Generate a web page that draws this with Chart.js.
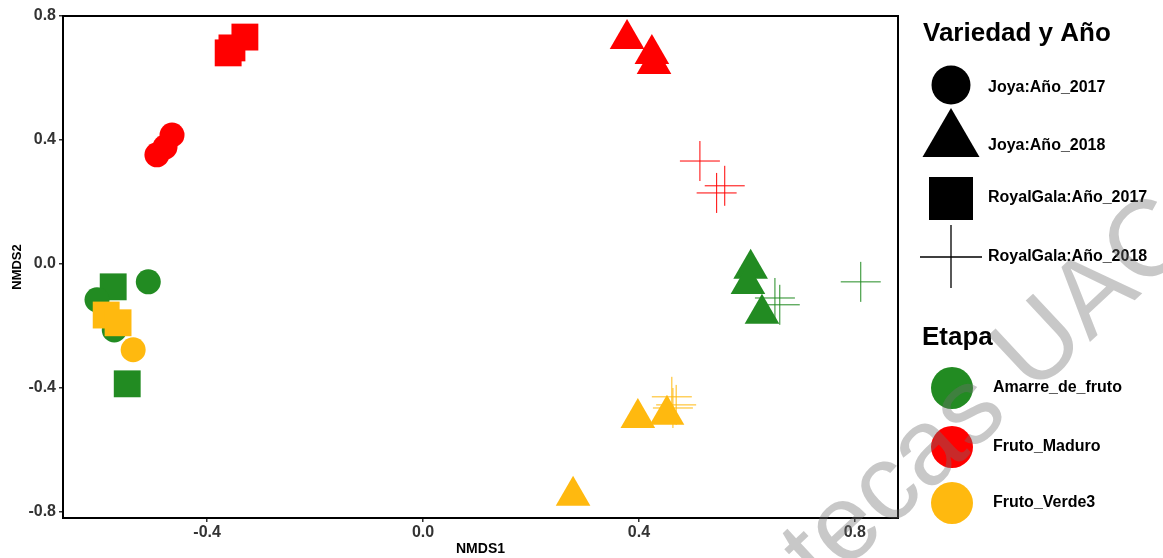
<!DOCTYPE html>
<html>
<head>
<meta charset="utf-8">
<script src="https://cdn.jsdelivr.net/npm/chart.js@4.4.1/dist/chart.umd.min.js"></script>
<style>
  html, body { margin: 0; padding: 0; background: #ffffff; }
  #wrap { width: 1163px; height: 558px; }
</style>
</head>
<body>
<div id="wrap"><canvas id="c" width="1163" height="558"></canvas></div>
<script>
// Axis ticks
const xTicks = [-0.4, 0.0, 0.4, 0.8];
const yTicks = [-0.8, -0.4, 0.0, 0.4, 0.8];

// Legend groups
const stages = ['Amarre_de_fruto', 'Fruto_Maduro', 'Fruto_Verde3'];
const stageColors = ['#228B22', '#FF0000', '#FFB90F'];
const groups = ['Joya:Año_2017', 'Joya:Año_2018', 'RoyalGala:Año_2017', 'RoyalGala:Año_2018'];
const groupShapes = ['circle', 'triangle', 'rect', 'cross'];

// NMDS scores [NMDS1, NMDS2] — Amarre_de_fruto
const amarreJoya2017 = [[-0.509, -0.058], [-0.604, -0.116], [-0.572, -0.213]];
const amarreJoya2018 = [[0.607, -0.016], [0.602, -0.065], [0.628, -0.161]];
const amarreGala2017 = [[-0.574, -0.074], [-0.548, -0.387]];
const amarreGala2018 = [[0.652, -0.110], [0.661, -0.132], [0.811, -0.058]];

// Fruto_Maduro
const maduroJoya2017 = [[-0.465, 0.416], [-0.478, 0.377], [-0.493, 0.352]];
const maduroJoya2018 = [[0.378, 0.726], [0.424, 0.677], [0.428, 0.645]];
const maduroGala2017 = [[-0.330, 0.732], [-0.354, 0.697], [-0.361, 0.681]];
const maduroGala2018 = [[0.513, 0.332], [0.559, 0.252], [0.544, 0.229]];

// Fruto_Verde3
const verdeJoya2017 = [[-0.537, -0.277]];
const verdeJoya2018 = [[0.398, -0.497], [0.452, -0.487], [0.278, -0.748]];
const verdeGala2017 = [[-0.587, -0.165], [-0.565, -0.190]];
const verdeGala2018 = [[0.461, -0.429], [0.469, -0.455], [0.463, -0.465]];

const seriesByStage = [
  [amarreJoya2017, amarreJoya2018, amarreGala2017, amarreGala2018],
  [maduroJoya2017, maduroJoya2018, maduroGala2017, maduroGala2018],
  [verdeJoya2017, verdeJoya2018, verdeGala2017, verdeGala2018]
];

const shapeRadius = { circle: 12.5, triangle: 20, rect: 19, cross: 20 };
const FONT = "'Liberation Sans', Arial, sans-serif";

// Build datasets; first dataset is drawn on top, so later stages go first
const datasets = [];
for (let s = stages.length - 1; s >= 0; s--) {
  for (let g = 0; g < groups.length; g++) {
    const shape = groupShapes[g];
    const isCross = shape === 'cross';
    datasets.push({
      label: stages[s] + ' ' + groups[g],
      data: seriesByStage[s][g].map(p => ({ x: p[0], y: p[1] })),
      pointStyle: shape,
      pointRadius: shapeRadius[shape],
      backgroundColor: stageColors[s],
      borderColor: stageColors[s],
      borderWidth: isCross ? 1 : 0,
      showLine: false
    });
  }
}

// Panel border, legend panel and watermark
const panelPlugin = {
  id: 'panel',
  afterDatasetsDraw(chart) {
    const { ctx, chartArea: a } = chart;
    ctx.save();
    ctx.strokeStyle = '#000';
    ctx.lineWidth = 2;
    ctx.strokeRect(a.left, a.top, a.right - a.left, a.bottom - a.top);
    ctx.restore();
  },
  afterDraw(chart) {
    const ctx = chart.ctx;
    ctx.save();
    ctx.textBaseline = 'middle';
    ctx.textAlign = 'left';
    ctx.fillStyle = '#000';

    // Shape legend
    ctx.font = 'bold 26px ' + FONT;
    ctx.fillText('Variedad y Año', 923, 34);
    const cx = 951;
    const rowY = [88, 146, 198, 257];
    ctx.fillStyle = '#000';
    ctx.strokeStyle = '#000';
    ctx.beginPath(); ctx.arc(cx, 85, 19.5, 0, Math.PI * 2); ctx.fill();
    ctx.beginPath(); ctx.moveTo(cx, 108); ctx.lineTo(cx + 28.5, 157); ctx.lineTo(cx - 28.5, 157); ctx.closePath(); ctx.fill();
    ctx.fillRect(929, 177, 44, 43);
    ctx.lineWidth = 1.3;
    ctx.beginPath(); ctx.moveTo(920, 257); ctx.lineTo(982, 257); ctx.moveTo(cx, 225); ctx.lineTo(cx, 288); ctx.stroke();
    ctx.font = 'bold 16px ' + FONT;
    groups.forEach((g, i) => ctx.fillText(g, 988, rowY[i]));

    // Colour legend
    ctx.font = 'bold 26px ' + FONT;
    ctx.fillText('Etapa', 922, 338);
    const stageY = [388, 447, 503];
    ctx.font = 'bold 16px ' + FONT;
    stages.forEach((s, i) => {
      ctx.fillStyle = stageColors[i];
      ctx.beginPath(); ctx.arc(952, stageY[i], 21, 0, Math.PI * 2); ctx.fill();
      ctx.fillStyle = '#000';
      ctx.fillText(s, 993, stageY[i]);
    });

    // Library watermark
    ctx.translate(822, 592);
    ctx.rotate(-43 * Math.PI / 180);
    ctx.font = '108px ' + FONT;
    ctx.textBaseline = 'alphabetic';
    ctx.fillStyle = 'rgba(110,110,110,0.38)';
    ctx.fillText('tecas UAC', 0, 0);
    ctx.restore();
  }
};

new Chart(document.getElementById('c'), {
  type: 'scatter',
  data: { datasets },
  options: {
    responsive: false,
    animation: false,
    events: [],
    layout: { autoPadding: false, padding: { top: 16, right: 265, bottom: 0, left: 0 } },
    plugins: { legend: { display: false }, tooltip: { enabled: false } },
    scales: {
      x: {
        type: 'linear',
        min: -0.667,
        max: 0.880,
        afterBuildTicks: axis => { axis.ticks = xTicks.map(v => ({ value: v })); },
        afterFit: axis => { axis.height = 40; axis.paddingLeft = 0; axis.paddingRight = 0; },
        grid: { drawOnChartArea: false, drawTicks: true, tickLength: 4, color: '#333', lineWidth: 1.5 },
        border: { display: false },
        ticks: {
          padding: 1,
          color: '#333',
          font: { family: FONT, size: 16, weight: 'bold' },
          callback: v => v.toFixed(1)
        },
        title: {
          display: true,
          text: 'NMDS1',
          color: '#000',
          font: { family: FONT, size: 14, weight: 'bold' },
          padding: { top: 0, bottom: 0 }
        }
      },
      y: {
        type: 'linear',
        min: -0.82,
        max: 0.80,
        afterBuildTicks: axis => { axis.ticks = yTicks.map(v => ({ value: v })); },
        afterFit: axis => { axis.width = 63; axis.paddingTop = 0; axis.paddingBottom = 0; },
        grid: { drawOnChartArea: false, drawTicks: true, tickLength: 4, color: '#333', lineWidth: 1.5 },
        border: { display: false },
        ticks: {
          padding: 3,
          color: '#333',
          font: { family: FONT, size: 16, weight: 'bold' },
          callback: v => v.toFixed(1)
        },
        title: {
          display: true,
          text: 'NMDS2',
          color: '#000',
          font: { family: FONT, size: 13, weight: 'bold' },
          padding: { top: 10, bottom: 0 }
        }
      }
    }
  },
  plugins: [panelPlugin]
});
</script>
</body>
</html>
